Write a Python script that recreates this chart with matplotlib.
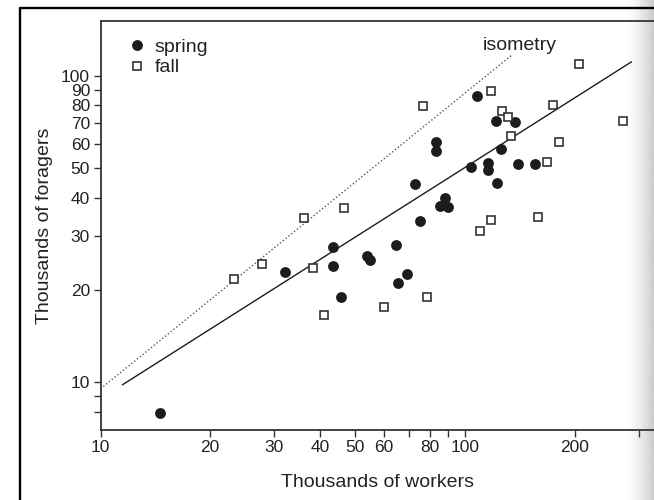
import numpy as np
import matplotlib
matplotlib.use('Agg')
import matplotlib.pyplot as plt
from matplotlib.ticker import FixedLocator, FixedFormatter, NullLocator
from matplotlib.lines import Line2D

plt.rcParams['font.family'] = ['Liberation Sans', 'DejaVu Sans']

# colony sizes, thousands of bees
spring_workers = [14.6, 32.0, 43.3, 43.3, 45.6, 53.7, 54.9, 64.6, 65.5, 69.5,
                  72.9, 75.3, 83.2, 83.2, 85.4, 88.1, 90.0, 104, 108, 115.6,
                  116, 121.5, 125.7, 122.7, 137, 139.6, 156]
spring_foragers = [7.9, 22.8, 27.5, 24.0, 18.9, 25.7, 25.1, 28.1, 21.1, 22.5,
                   44.3, 33.6, 60.6, 56.6, 37.5, 39.9, 37.2, 50.5, 85.7, 51.8,
                   49.2, 71.3, 57.7, 44.6, 70.5, 51.5, 51.5]

fall_workers = [23.3, 27.8, 36.1, 38.2, 41.0, 46.6, 60.1, 76.9, 78.9, 109.6,
                117.8, 117.5, 126.4, 131.5, 133.6, 158.5, 167.9, 174.7, 181.6,
                206, 271.6]
fall_foragers = [21.7, 24.3, 34.3, 23.5, 16.5, 36.9, 17.6, 79.6, 19.0, 31.1,
                 33.9, 89.3, 76.5, 73.1, 63.7, 34.7, 52.4, 80.4, 60.9,
                 109.6, 71.3]

# fitted regression line and isometry reference line
fit_workers = [11.5, 286]
fit_foragers = [9.8, 111]
iso_workers = [10, 134.6]
iso_foragers = [9.5, 117]

x_ticks = [10, 20, 30, 40, 50, 60, 70, 80, 90, 100, 200, 300]
x_labels = ['10', '20', '30', '40', '50', '60', '', '80', '', '100', '200', '']
y_ticks = [8, 9, 10, 20, 30, 40, 50, 60, 70, 80, 90, 100]
y_labels = ['', '', '10', '20', '30', '40', '50', '60', '70', '80', '90', '100']

ink = '#1c1c1c'

fig = plt.figure(figsize=(6.54, 5.0), dpi=100)

# greyish page edge on the right
shade = fig.add_axes([625 / 654, 0, 29 / 654, 1])
grad = np.zeros((2, 64, 4))
grad[..., :3] = 0.80
grad[..., 3] = np.linspace(0, 1, 64) ** 1.5
shade.imshow(grad, aspect='auto', extent=[0, 1, 0, 1])
shade.axis('off')

ax = fig.add_axes([100.5 / 654, 70 / 500, 553.5 / 654, 409 / 500])
ax.patch.set_alpha(0)
ax.set_xscale('log')
ax.set_yscale('log')
ax.set_xlim(10, 330)
ax.set_ylim(6.97, 151)

ax.plot(iso_workers, iso_foragers, color='#555555', lw=1.0,
        linestyle=(0, (1, 1.6)), zorder=2)
ax.plot(fit_workers, fit_foragers, color=ink, lw=1.0, zorder=2)

ax.plot(spring_workers, spring_foragers, 'o', ms=7.8, mfc=ink, mec=ink,
        mew=0, label='spring', zorder=3)
ax.plot(fall_workers, fall_foragers, 's', ms=6.4, mfc='white', mec='#333333',
        mew=1.2, label='fall', zorder=3)

ax.text(141.6, 121, 'isometry', ha='center', va='baseline', fontsize=14,
        color='#222222')

ax.legend(loc='upper left', bbox_to_anchor=(0.05, 0.958), frameon=False,
          handlelength=0.9, handletextpad=0.45, labelspacing=0.15,
          borderpad=0, borderaxespad=0, fontsize=14, labelcolor='#222222')

ax.xaxis.set_major_locator(FixedLocator(x_ticks))
ax.xaxis.set_major_formatter(FixedFormatter(x_labels))
ax.xaxis.set_minor_locator(NullLocator())
ax.yaxis.set_major_locator(FixedLocator(y_ticks))
ax.yaxis.set_major_formatter(FixedFormatter(y_labels))
ax.yaxis.set_minor_locator(NullLocator())

ax.tick_params(direction='out', length=5, width=1.0, colors='#333333',
               labelsize=12.5, labelcolor='#222222', pad=2.5)
ax.spines['right'].set_visible(False)
for side in ['left', 'bottom', 'top']:
    ax.spines[side].set_linewidth(1.3)
    ax.spines[side].set_color('#333333')

ax.set_xlabel('Thousands of workers', fontsize=14, color='#222222', labelpad=13.5)
ax.set_ylabel('Thousands of foragers', fontsize=14, color='#222222', labelpad=6)

# border of the scanned page
fig.add_artist(Line2D([20 / 654, 20 / 654, 1], [0, 1 - 7.5 / 500, 1 - 7.5 / 500],
                      transform=fig.transFigure, color='black', lw=1.7))

fig.savefig('out.png', dpi=100)
